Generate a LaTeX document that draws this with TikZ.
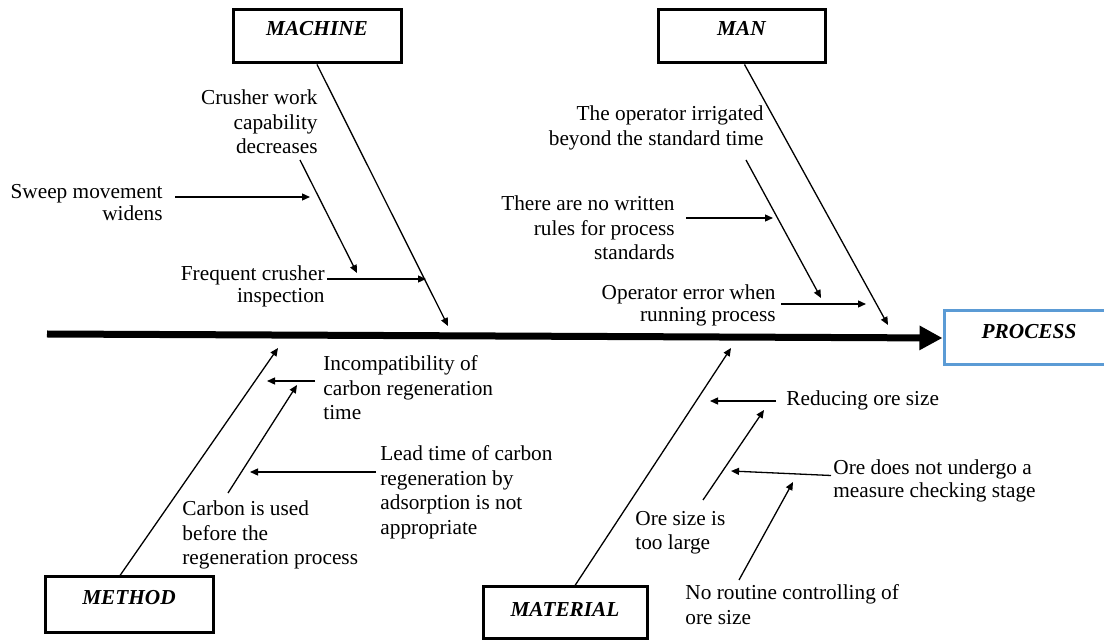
\documentclass[tikz,border=0pt]{standalone}
\usepackage{fontspec}
\setmainfont{Liberation Serif}
\usetikzlibrary{arrows.meta}
\definecolor{procblue}{RGB}{91,155,213}
\tikzset{
  catbox/.style={draw, line width=1.5pt, minimum width=84pt, minimum height=26.5pt, inner sep=0pt,
    font=\bfseries\itshape\fontsize{10.65}{12}\selectfont, text height=7pt, text depth=7.5pt},
  cause/.style={inner sep=0pt, font=\fontsize{10.65}{12.25}\selectfont},
  bone/.style={line width=0.65pt, -{Triangle[length=4pt,width=3.5pt]}},
  spine/.style={line width=3.5pt, -{Triangle[length=11.5pt,width=11.5pt]}}
}
\begin{document}
\begin{tikzpicture}[x=0.5pt,y=-0.5pt]
\useasboundingbox (0,0) rectangle (1104,641);
% category boxes
\node [catbox] (machine) at (317,36.5) {MACHINE};
\node [catbox, minimum width=83.5pt] (man) at (741.5,36.5) {MAN};
\node [catbox, minimum width=82pt, minimum height=26pt, text depth=3pt] (material) at (565,613) {MATERIAL};
\node [catbox, minimum height=28pt, text depth=8pt] (method) at (129,605) {METHOD};
\node [catbox, draw=procblue, minimum width=85pt, minimum height=27pt, text depth=6pt] (process) at (1029,338) {PROCESS};
% spine
\coordinate (tail) at (47,334);
\draw [spine] (tail) -- (process.west);
% machine
\coordinate (machinetip) at (448,326);
\draw [bone] (machine.south) -- (machinetip);
\node [cause, anchor=north east, align=right] (crusher) at (318,89.5) {Crusher work\\capability\\decreases};
\node [cause, anchor=north east, align=right, font=\fontsize{10.65}{9}\selectfont] (sweep) at (163,184.5) {Sweep movement\\widens};
\node [cause, anchor=north east, align=right, font=\fontsize{10.65}{10.85}\selectfont] (inspect) at (325,265.5) {Frequent crusher\\inspection};
\coordinate (crushertail) at (300,160);
\coordinate (crushertip) at (357,273);
\coordinate (sweeptip) at (310,197);
\coordinate (inspecttip) at (426,279);
\draw [bone] (crushertail) -- (crushertip);
\draw [bone] ([xshift=6pt]sweeptip -| sweep.east) -- (sweeptip);
\draw [bone] ([xshift=1pt]inspecttip -| inspect.east) -- (inspecttip);
% man
\coordinate (mantip) at (888,325);
\draw [bone] ([xshift=1.5pt]man.south) -- (mantip);
\node [cause, anchor=north east, align=right] (irrigate) at (764,105.5) {The operator irrigated\\beyond the standard time};
\node [cause, anchor=north east, align=right] (rules) at (675,195.5) {There are no written\\rules for process\\standards};
\node [cause, anchor=north east, align=right, font=\fontsize{10.65}{10.85}\selectfont] (operror) at (776,284.5) {Operator error when\\running process};
\coordinate (irrigatetail) at (746,160);
\coordinate (irrigatetip) at (821,298);
\coordinate (rulestip) at (773,218);
\coordinate (operrortip) at (866,304);
\draw [bone] (irrigatetail) -- (irrigatetip);
\draw [bone] ([xshift=5.5pt]rulestip -| rules.east) -- (rulestip);
\draw [bone] ([xshift=2.5pt]operrortip -| operror.east) -- (operrortip);
% method
\coordinate (methodtip) at (278,348);
\draw [bone] ([xshift=-4.5pt]method.north) -- (methodtip);
\node [cause, anchor=north west, align=left] (incompat) at (323,355.5) {Incompatibility of\\carbon regeneration\\time};
\node [cause, anchor=north west, align=left] (leadtime) at (380,445.5) {Lead time of carbon\\regeneration by\\adsorption is not\\appropriate};
\node [cause, anchor=north west, align=left] (carbon) at (182,500.5) {Carbon is used\\before the\\regeneration process};
\coordinate (incompattip) at (267,381);
\coordinate (carbontail) at (228,493);
\coordinate (carbontip) at (297,385);
\coordinate (leadtimetip) at (250,472);
\draw [bone] ([xshift=-4pt]incompattip -| incompat.west) -- (incompattip);
\draw [bone] (carbontail) -- (carbontip);
\draw [bone] ([xshift=-2pt]leadtimetip -| leadtime.west) -- (leadtimetip);
% material
\coordinate (materialtip) at (731,348);
\draw [bone] ([xshift=5pt]material.north) -- (materialtip);
\node [cause, anchor=north west, align=left] (reduce) at (786,390.5) {Reducing ore size};
\node [cause, anchor=north west, align=left] (toolarge) at (635,510.5) {Ore size is\\too large};
\node [cause, anchor=north west, align=left, font=\fontsize{10.65}{11.5}\selectfont] (nocheck) at (833,459.5) {Ore does not undergo a\\measure checking stage};
\node [cause, anchor=north west, align=left] (routine) at (685,584.5) {No routine controlling of\\ore size};
\coordinate (reducetip) at (710,401);
\coordinate (largetail) at (703,500);
\coordinate (largetip) at (764,410);
\coordinate (nochecktip) at (731,471);
\coordinate (routinetail) at (739,580);
\coordinate (routinetip) at (793,482);
\draw [bone] ([xshift=-5pt]reducetip -| reduce.west) -- (reducetip);
\draw [bone] (largetail) -- (largetip);
\draw [bone] ([xshift=-1pt,yshift=-8pt]nocheck.north west) -- (nochecktip);
\draw [bone] (routinetail) -- (routinetip);
\end{tikzpicture}
\end{document}
